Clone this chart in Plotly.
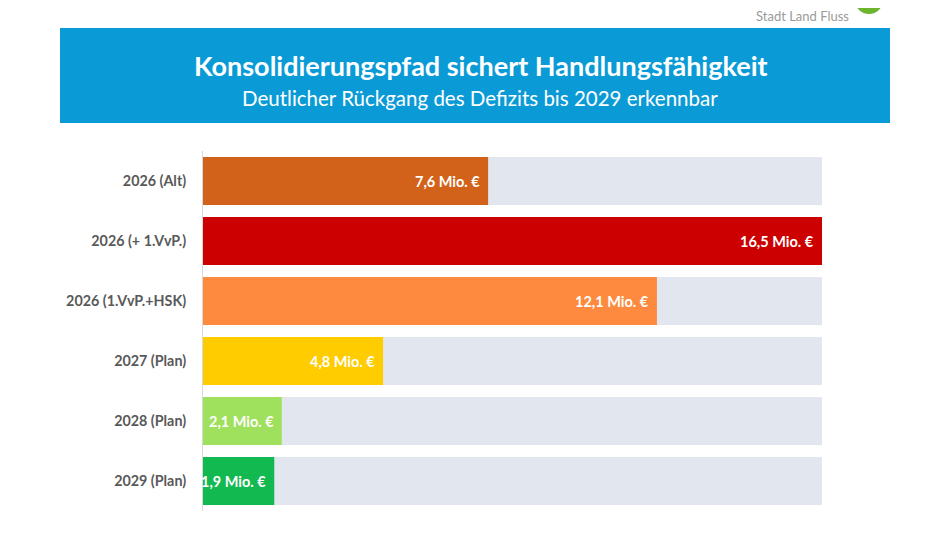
import plotly.graph_objects as go

categories = ["2026 (Alt)", "2026 (+ 1.VvP.)", "2026 (1.VvP.+HSK)",
              "2027 (Plan)", "2028 (Plan)", "2029 (Plan)"]
deficit = [7.6, 16.5, 12.1, 4.8, 2.1, 1.9]
value_labels = ["7,6 Mio. €", "16,5 Mio. €", "12,1 Mio. €",
                "4,8 Mio. €", "2,1 Mio. €", "1,9 Mio. €"]
bar_colors = ["#d2621a", "#cc0000", "#fd8a3e", "#ffcc00", "#9fe05c", "#12b850"]

FONT = "Lato"
# the page puts the figure 8px in from the top-left corner
OFF = 8
W, H = 950 - OFF, 534 - OFF


def px(x):
    return (x - OFF) / W


def py(y):
    return 1 - (y - OFF) / H


max_val = max(deficit)

fig = go.Figure()

# gray track behind every bar
fig.add_trace(go.Bar(
    y=categories, x=[max_val] * len(categories), orientation="h",
    marker=dict(color="#e2e6ee", line=dict(width=0)),
    hoverinfo="skip", showlegend=False,
))
fig.add_trace(go.Bar(
    y=categories, x=deficit, orientation="h",
    marker=dict(color=bar_colors, line=dict(width=0)),
    showlegend=False,
))

# value labels at the end of each bar
for cat, val, lab in zip(categories, deficit, value_labels):
    fig.add_annotation(
        x=val, y=cat, xref="x", yref="y", text="<b>%s</b>" % lab,
        xanchor="right", yanchor="middle", xshift=-6, showarrow=False,
        font=dict(family=FONT, size=14.5, color="white"),
    )

# header box
fig.add_shape(type="rect", xref="paper", yref="paper",
              x0=px(60), x1=px(890), y0=py(123), y1=py(28),
              fillcolor="#0a9bd7", line=dict(width=0), layer="below")
fig.add_annotation(
    x=px(481), y=py(66), xref="paper", yref="paper",
    text="<b>Konsolidierungspfad sichert Handlungsfähigkeit</b>",
    showarrow=False, xanchor="center", yanchor="middle",
    font=dict(family=FONT, size=27, color="white"),
)
fig.add_annotation(
    x=px(480), y=py(98), xref="paper", yref="paper",
    text="Deutlicher Rückgang des Defizits bis 2029 erkennbar",
    showarrow=False, xanchor="center", yanchor="middle",
    font=dict(family=FONT, size=20.5, color="white"),
)

# logo remnant at the top right
fig.add_annotation(
    x=px(850), y=py(7), xref="paper", yref="paper",
    text="Stadt Land Fluss", showarrow=False, xanchor="right", yanchor="top",
    borderpad=0,
    font=dict(family=FONT, size=13, color="#9a9a9a"),
)
fig.add_shape(type="circle", xref="paper", yref="paper",
              x0=px(855), x1=px(883), y0=py(14), y1=py(-14),
              fillcolor="#6cb52d", line=dict(width=0))

fig.update_layout(
    width=W, height=H,
    margin=dict(l=0, r=0, t=0, b=0),
    paper_bgcolor="white", plot_bgcolor="white",
    barmode="overlay", bargap=0.2,
    font=dict(family=FONT),
    xaxis=dict(domain=[px(203), px(822)], range=[0, max_val],
               showgrid=False, zeroline=False, showticklabels=False,
               fixedrange=True),
    yaxis=dict(domain=[py(511), py(151)], autorange="reversed",
               showline=True, linecolor="#d9d9d9", linewidth=1,
               showgrid=False, ticks="", ticklabelstandoff=13,
               tickfont=dict(family=FONT, size=14.3, color="#595959", weight="bold"),
               fixedrange=True),
)

fig.write_html("out.html")
